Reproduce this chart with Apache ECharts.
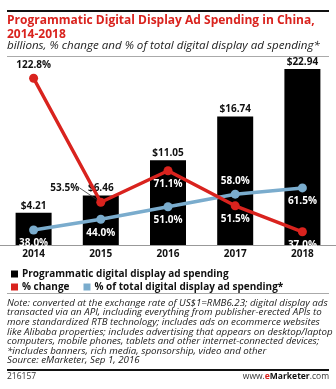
<!DOCTYPE html>
<html><head><meta charset="utf-8">
<script src="https://cdn.jsdelivr.net/npm/echarts@6/dist/echarts.min.js"></script>
<style>html,body{margin:0;padding:0;background:#fff}#c{width:336px;height:389px}</style>
</head><body><div id="c"></div>
<script>
const years = ['2014','2015','2016','2017','2018'];
const spending = [4.21, 6.46, 11.05, 16.74, 22.94];
const pctChange = [122.8, 53.5, 71.1, 51.5, 37.0];
const pctTotal = [38.0, 44.0, 51.0, 58.0, 61.5];
const titleText = 'Programmatic Digital Display Ad Spending in China,\n2014-2018';
const subtitleText = 'billions, % change and % of total digital display ad spending*';
const noteLines = [
 'Note: converted at the exchange rate of US$1=RMB6.23; digital display ads',
 'transacted via an API, including everything from publisher-erected APIs to',
 'more standardized RTB technology; includes ads on ecommerce websites',
 'like Alibaba properties; includes advertising that appears on desktop/laptop',
 'computers, mobile phones, tablets and other internet-connected devices;',
 '*includes banners, rich media, sponsorship, video and other',
 'Source: eMarketer, Sep 1, 2016'
];
const RED = '#d9231e', BLUE = '#7aaccd';
const FONT = '"Open Sans", sans-serif';

const changeLabelCfg = [
  {position:'top', color:'#111'},
  {position:'top', color:'#111', layout:{dx:-36, dy:-1}},
  {position:'bottom', color:'#fff'},
  {position:'bottom', color:'#fff'},
  {position:'bottom', color:'#fff'}
];
const totalLabelPos = ['bottom','bottom','bottom','top','bottom'];

const chart = echarts.init(document.getElementById('c'), null, {renderer:'canvas'});
const option = {
  animation:false,
  textStyle:{fontFamily:FONT},
  grid:{left:0, top:60, width:338, height:185, containLabel:false},
  xAxis:{type:'category', data:years,
    axisLine:{lineStyle:{color:'#999', width:1}}, axisTick:{show:false},
    axisLabel:{color:'#111', fontWeight:'bold', fontSize:10, fontFamily:FONT, margin:4}},
  yAxis:[
    {type:'value', min:0, max:24.12, show:false, splitLine:{show:false}},
    {type:'value', min:29.6, max:133, show:false, splitLine:{show:false}}
  ],
  legend:[
    {left:6, top:264, itemWidth:7, itemHeight:7, icon:'rect', itemGap:12,
     data:['Programmatic digital display ad spending'],
     textStyle:{fontWeight:'bold', fontSize:10, color:'#111', fontFamily:FONT, padding:[0,0,0,-1]}},
    {left:6, top:277, itemWidth:7, itemHeight:7, icon:'rect', itemGap:14,
     data:['% change','% of total digital display ad spending*'],
     textStyle:{fontWeight:'bold', fontSize:10, color:'#111', fontFamily:FONT, padding:[0,0,0,-1]}}
  ],
  series:[
    {name:'Programmatic digital display ad spending', type:'bar', yAxisIndex:0, data:spending,
     barWidth:36, itemStyle:{color:'#000'},
     label:{show:true, position:'top', distance:2, formatter:p=>'$'+p.value.toFixed(2),
       fontWeight:'bold', fontSize:10, color:'#111', fontFamily:FONT}},
    {name:'% of total digital display ad spending*', type:'line', yAxisIndex:1,
     data:pctTotal.map((v,i)=>({value:v, label:{position:totalLabelPos[i]}})),
     lineStyle:{color:BLUE, width:3.5}, itemStyle:{color:BLUE}, symbol:'circle', symbolSize:9,
     label:{show:true, color:'#fff', fontWeight:'bold', fontSize:10, distance:4, fontFamily:FONT,
       formatter:p=>p.value.toFixed(1)+'%'}, z:3},
    {name:'% change', type:'line', yAxisIndex:1,
     data:pctChange.map((v,i)=>({value:v, label:{position:changeLabelCfg[i].position, color:changeLabelCfg[i].color},
        labelLine:{show: !!changeLabelCfg[i].layout}})),
     labelLine:{show:false, lineStyle:{color:'#333', width:0.8}},
     lineStyle:{color:RED, width:3.5}, itemStyle:{color:RED}, symbol:'circle', symbolSize:9,
     label:{show:true, fontWeight:'bold', fontSize:10, distance:4, fontFamily:FONT,
       formatter:p=>p.value.toFixed(1)+'%'},
     labelLayout:(params)=>{ const c = changeLabelCfg[params.dataIndex]; return c.layout ? {dx:c.layout.dx, dy:c.layout.dy} : {}; },
     z:4}
  ],
  graphic:[
    {type:'rect', shape:{x:7, y:10, width:322, height:2}, style:{fill:'#111'}},
    {type:'text', left:7, top:14, style:{text:titleText, fill:RED, font:'bold 12px '+FONT, lineHeight:14}},
    {type:'text', left:7, top:40, style:{text:subtitleText, fill:'#222', font:'italic 11.6px '+FONT}},
    {type:'rect', shape:{x:7, y:56, width:322, height:1}, style:{fill:'#aaa'}},
    {type:'rect', shape:{x:7, y:293, width:322, height:1}, style:{fill:'#aaa'}},
    {type:'text', left:7, top:298, style:{text:noteLines.join('\n'), fill:'#222', font:'italic 9.75px '+FONT, lineHeight:9.6}},
    {type:'rect', shape:{x:7, y:369, width:322, height:2}, style:{fill:'#111'}},
    {type:'text', left:7, top:372, style:{text:'216157', fill:'#333', font:'8.5px '+FONT}},
    {type:'text', right:7, top:372, style:{rich:{a:{fill:'#333', font:'8.5px '+FONT}, e:{fill:RED, font:'bold 8.5px '+FONT}, b:{fill:'#111', font:'bold 8.5px '+FONT}}, text:'{a|www.}{e|e}{b|Marketer}{a|.com}'}}
  ]
};
chart.setOption(option);
</script></body></html>
